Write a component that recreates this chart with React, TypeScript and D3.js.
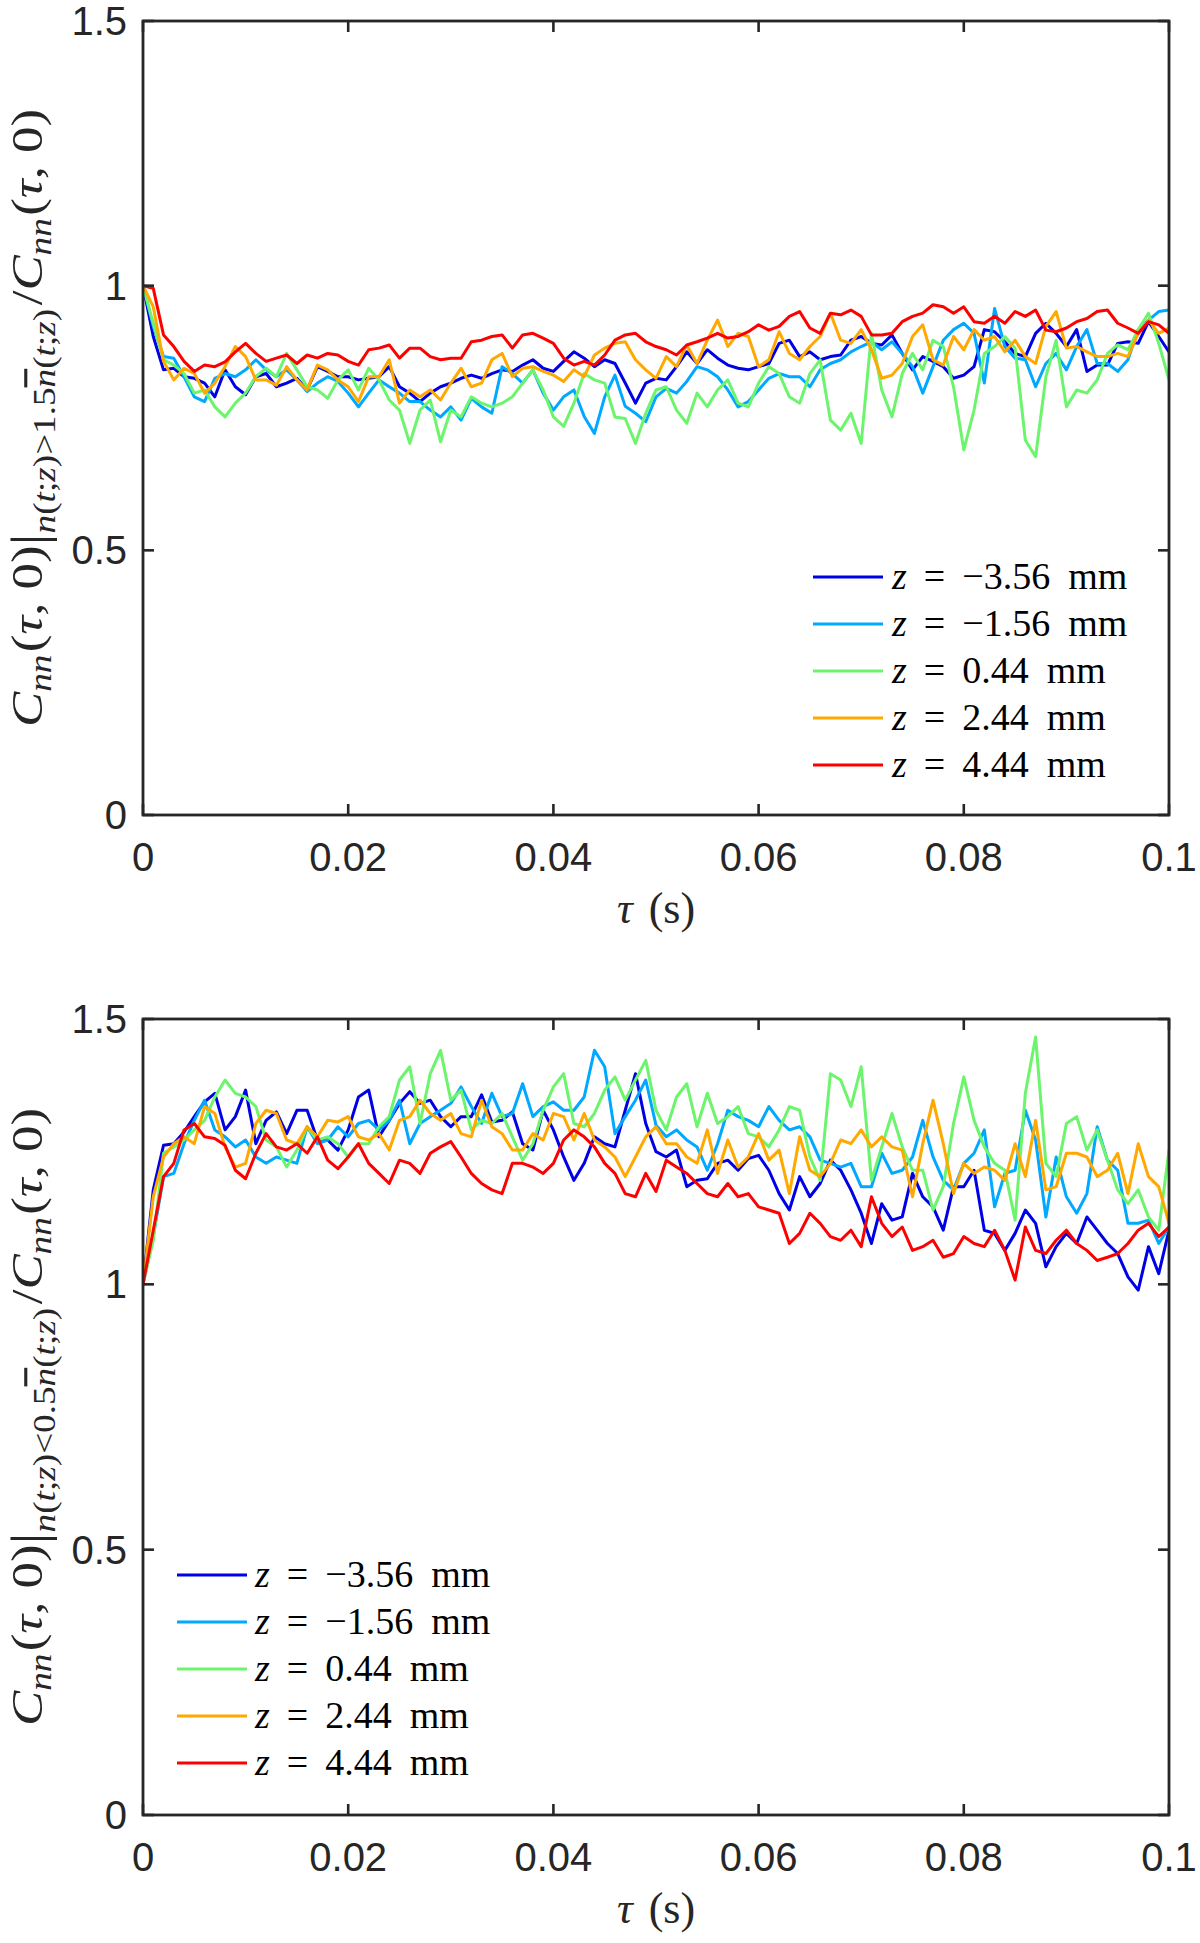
import React from "react";
import * as d3 from "d3";

// ---------- data ----------
const TAU_STEP_S = 0.001; // sampling step of the stored series (s)

const xTicks = [0, 0.02, 0.04, 0.06, 0.08, 0.1];
const xTickLabels = ["0", "0.02", "0.04", "0.06", "0.08", "0.1"];
const yTicks = [0, 0.5, 1, 1.5];
const yTickLabels = ["0", "0.5", "1", "1.5"];

const zValues = ["\u22123.56", "\u22121.56", "0.44", "2.44", "4.44"];
const seriesColors = ["#0000e6", "#00a8ff", "#6cf56c", "#ffa800", "#ff0000"];

// Panel (a): n(t;z) > 1.5 nbar
const topBlue = [1.000,0.904,0.841,0.844,0.828,0.825,0.816,0.790,0.841,0.809,0.794,0.828,0.834,0.809,0.816,0.825,0.803,0.847,0.838,0.828,0.828,0.822,0.825,0.828,0.847,0.809,0.797,0.781,0.797,0.809,0.816,0.825,0.831,0.825,0.834,0.841,0.838,0.850,0.860,0.844,0.838,0.857,0.875,0.863,0.847,0.860,0.853,0.816,0.778,0.816,0.825,
  0.822,0.847,0.875,0.853,0.879,0.863,0.850,0.844,0.841,0.847,0.853,0.891,0.897,0.866,0.875,0.860,0.866,0.869,0.897,0.904,0.891,0.888,0.907,0.872,0.841,0.866,0.857,0.847,0.825,0.831,0.847,0.917,0.913,0.894,0.872,0.866,0.910,0.929,0.910,0.885,0.917,0.838,0.850,0.850,0.891,0.894,0.891,0.932,0.904,0.875];
const topCyan = [1.000,0.923,0.866,0.863,0.828,0.790,0.781,0.825,0.834,0.828,0.841,0.860,0.841,0.828,0.841,0.822,0.800,0.816,0.828,0.819,0.797,0.771,0.797,0.822,0.809,0.797,0.781,0.781,0.765,0.752,0.771,0.746,0.787,0.771,0.759,0.847,0.834,0.816,0.841,0.797,0.765,0.790,0.803,0.753,0.721,0.790,0.831,0.772,0.759,0.743,0.790,
  0.806,0.797,0.819,0.847,0.841,0.828,0.803,0.771,0.781,0.803,0.825,0.834,0.828,0.828,0.809,0.841,0.853,0.860,0.875,0.885,0.894,0.879,0.894,0.872,0.847,0.797,0.847,0.897,0.917,0.929,0.910,0.816,0.957,0.885,0.863,0.860,0.809,0.853,0.872,0.841,0.885,0.917,0.853,0.853,0.838,0.860,0.917,0.935,0.951,0.954];
const topGreen = [1.000,0.929,0.860,0.850,0.834,0.797,0.803,0.771,0.752,0.778,0.797,0.828,0.844,0.828,0.872,0.841,0.809,0.803,0.787,0.822,0.841,0.803,0.844,0.822,0.784,0.765,0.702,0.765,0.784,0.705,0.765,0.752,0.790,0.778,0.771,0.778,0.790,0.816,0.841,0.803,0.752,0.734,0.778,0.834,0.822,0.816,0.752,0.749,0.702,0.759,0.803,
  0.809,0.765,0.740,0.797,0.771,0.803,0.822,0.778,0.771,0.816,0.847,0.834,0.790,0.778,0.834,0.860,0.746,0.727,0.759,0.702,0.910,0.803,0.752,0.834,0.872,0.841,0.897,0.885,0.809,0.690,0.765,0.872,0.885,0.904,0.882,0.708,0.677,0.828,0.897,0.771,0.803,0.797,0.822,0.872,0.888,0.879,0.917,0.948,0.891,0.822];
const topOrange = [1.000,0.960,0.857,0.822,0.844,0.834,0.797,0.816,0.847,0.885,0.866,0.822,0.822,0.812,0.847,0.822,0.803,0.850,0.841,0.822,0.809,0.781,0.828,0.828,0.860,0.778,0.803,0.790,0.803,0.784,0.816,0.844,0.809,0.816,0.860,0.872,0.828,0.844,0.847,0.838,0.831,0.819,0.841,0.828,0.869,0.882,0.891,0.894,0.860,0.841,0.825,
  0.866,0.847,0.888,0.853,0.897,0.935,0.885,0.910,0.904,0.847,0.860,0.913,0.872,0.860,0.885,0.904,0.948,0.897,0.891,0.917,0.879,0.825,0.831,0.853,0.904,0.926,0.860,0.850,0.904,0.879,0.917,0.897,0.904,0.875,0.897,0.866,0.853,0.923,0.951,0.882,0.885,0.875,0.866,0.866,0.872,0.866,0.910,0.935,0.910,0.920];
const topRed = [1.000,0.995,0.907,0.885,0.857,0.838,0.850,0.847,0.856,0.875,0.891,0.872,0.857,0.863,0.869,0.853,0.869,0.863,0.872,0.869,0.857,0.850,0.879,0.882,0.888,0.863,0.882,0.882,0.866,0.860,0.863,0.863,0.894,0.897,0.904,0.907,0.882,0.907,0.910,0.901,0.891,0.863,0.850,0.857,0.850,0.869,0.897,0.907,0.910,0.894,0.885,
  0.879,0.869,0.888,0.894,0.901,0.910,0.901,0.904,0.913,0.926,0.916,0.923,0.942,0.951,0.920,0.910,0.948,0.945,0.954,0.942,0.907,0.907,0.910,0.932,0.942,0.948,0.964,0.960,0.948,0.960,0.932,0.929,0.942,0.929,0.951,0.942,0.954,0.916,0.913,0.920,0.932,0.938,0.951,0.954,0.929,0.920,0.910,0.932,0.926,0.910];

// Panel (b): n(t;z) < 0.5 nbar
const botBlue = [1.000,1.178,1.262,1.265,1.287,1.316,1.344,1.360,1.291,1.316,1.366,1.265,1.309,1.325,1.284,1.328,1.328,1.272,1.272,1.253,1.291,1.353,1.366,1.278,1.309,1.341,1.363,1.341,1.347,1.316,1.297,1.316,1.316,1.357,1.306,1.309,1.325,1.265,1.253,1.328,1.291,1.240,1.196,1.228,1.278,1.265,1.259,1.328,1.397,1.303,1.250,
  1.240,1.253,1.184,1.196,1.199,1.228,1.234,1.215,1.237,1.243,1.215,1.171,1.140,1.203,1.165,1.190,1.234,1.215,1.178,1.134,1.077,1.152,1.121,1.127,1.209,1.165,1.146,1.102,1.184,1.184,1.215,1.102,1.096,1.064,1.096,1.140,1.115,1.033,1.071,1.096,1.077,1.127,1.102,1.077,1.058,1.014,0.989,1.071,1.020,1.102];
const botCyan = [1.000,1.090,1.203,1.209,1.265,1.309,1.347,1.291,1.278,1.259,1.272,1.240,1.228,1.240,1.234,1.228,1.297,1.265,1.272,1.297,1.278,1.303,1.309,1.291,1.309,1.347,1.265,1.303,1.316,1.328,1.341,1.372,1.335,1.303,1.360,1.316,1.322,1.378,1.316,1.335,1.344,1.328,1.328,1.353,1.441,1.410,1.284,1.316,1.347,1.385,1.300,
  1.278,1.291,1.272,1.259,1.215,1.265,1.328,1.316,1.309,1.297,1.335,1.309,1.291,1.297,1.278,1.234,1.228,1.221,1.228,1.184,1.184,1.247,1.209,1.215,1.240,1.309,1.240,1.196,1.178,1.228,1.247,1.291,1.146,1.209,1.215,1.328,1.272,1.127,1.240,1.165,1.134,1.171,1.297,1.234,1.215,1.115,1.115,1.121,1.077,1.108];
const botGreen = [1.000,1.083,1.247,1.259,1.272,1.291,1.309,1.353,1.385,1.360,1.353,1.335,1.272,1.259,1.221,1.253,1.297,1.272,1.278,1.265,1.240,1.265,1.265,1.297,1.316,1.385,1.410,1.303,1.397,1.441,1.347,1.366,1.291,1.309,1.303,1.322,1.278,1.234,1.265,1.328,1.372,1.397,1.303,1.297,1.322,1.366,1.391,1.347,1.385,1.422,1.328,
  1.291,1.353,1.378,1.297,1.360,1.303,1.316,1.335,1.284,1.278,1.259,1.291,1.335,1.328,1.240,1.196,1.397,1.385,1.335,1.410,1.196,1.259,1.322,1.259,1.215,1.215,1.140,1.184,1.303,1.391,1.309,1.259,1.228,1.215,1.121,1.360,1.466,1.228,1.203,1.303,1.316,1.253,1.291,1.234,1.178,1.152,1.178,1.127,1.102,1.253];
const botOrange = [1.000,1.165,1.240,1.265,1.278,1.265,1.335,1.322,1.259,1.221,1.228,1.303,1.328,1.322,1.272,1.265,1.297,1.278,1.309,1.306,1.316,1.278,1.272,1.284,1.253,1.309,1.316,1.347,1.322,1.309,1.322,1.284,1.278,1.347,1.297,1.284,1.253,1.253,1.284,1.272,1.322,1.316,1.272,1.322,1.272,1.259,1.240,1.203,1.240,1.278,1.297,
  1.265,1.265,1.240,1.228,1.291,1.209,1.272,1.221,1.240,1.284,1.234,1.253,1.171,1.278,1.215,1.203,1.228,1.272,1.265,1.291,1.259,1.278,1.259,1.253,1.165,1.265,1.347,1.265,1.171,1.228,1.209,1.221,1.215,1.196,1.265,1.203,1.309,1.178,1.184,1.247,1.247,1.240,1.203,1.215,1.247,1.171,1.265,1.203,1.184,1.115];
const botRed = [1.000,1.102,1.203,1.228,1.291,1.303,1.278,1.275,1.262,1.215,1.199,1.247,1.284,1.259,1.253,1.265,1.247,1.278,1.234,1.218,1.240,1.265,1.228,1.209,1.190,1.234,1.228,1.209,1.247,1.259,1.269,1.240,1.209,1.190,1.178,1.171,1.228,1.228,1.221,1.209,1.228,1.272,1.291,1.278,1.259,1.228,1.209,1.171,1.165,1.209,1.175,
  1.234,1.221,1.209,1.190,1.171,1.165,1.190,1.165,1.171,1.146,1.140,1.134,1.077,1.096,1.134,1.115,1.090,1.083,1.102,1.071,1.165,1.115,1.090,1.108,1.064,1.071,1.083,1.051,1.058,1.090,1.077,1.071,1.102,1.064,1.008,1.108,1.064,1.058,1.083,1.102,1.077,1.064,1.045,1.051,1.058,1.077,1.102,1.115,1.090,1.108];

const topSeries = [topBlue, topCyan, topGreen, topOrange, topRed];
const botSeries = [botBlue, botCyan, botGreen, botOrange, botRed];

// ---------- styling ----------
const AX = "#262626";
const SANS = "'Liberation Sans', Arial, Helvetica, sans-serif";
const SERIF = "'Liberation Serif', 'DejaVu Serif', 'Times New Roman', serif";
const LEFT = 143;
const RIGHT = 1169;

type PanelProps = {
  id: string;
  top: number;
  bottom: number;
  series: number[][];
  legendLineX: number;
  legendTextX: number;
  legendY0: number;
  cond: "gt" | "lt";
};

function YLabel({ x, y, cond }: { x: number; y: number; cond: "gt" | "lt" }) {
  const fs = 44;
  const sub = 31;
  const d1 = 9;
  const d2 = 13;
  return (
    <text
      transform={`translate(${x},${y}) rotate(-90) scale(1.2,1)`}
      textAnchor="middle"
      fontFamily={SERIF}
      fontSize={fs}
      fill={AX}
    >
      <tspan fontStyle="italic">C</tspan>
      <tspan fontStyle="italic" fontSize={sub} dy={d1}>nn</tspan>
      <tspan dy={-d1} dx={2}>(</tspan>
      <tspan fontStyle="italic">{"\u03C4"}</tspan>
      <tspan>{", 0)"}</tspan>
      <tspan fontSize={50} dy={4}>|</tspan>
      <tspan fontStyle="italic" fontSize={sub} dy={d2 - 4}>n</tspan>
      <tspan fontSize={sub}>(</tspan>
      <tspan fontStyle="italic" fontSize={sub}>t</tspan>
      <tspan fontSize={sub}>;</tspan>
      <tspan fontStyle="italic" fontSize={sub}>z</tspan>
      <tspan fontSize={sub}>{cond === "gt" ? ")>1.5" : ")<0.5"}</tspan>
      <tspan fontStyle="italic" fontSize={sub} textDecoration="overline">n</tspan>
      <tspan fontSize={sub}>(</tspan>
      <tspan fontStyle="italic" fontSize={sub}>t</tspan>
      <tspan fontSize={sub}>;</tspan>
      <tspan fontStyle="italic" fontSize={sub}>z</tspan>
      <tspan fontSize={sub}>)</tspan>
      <tspan dy={-d2} dx={3}>/</tspan>
      <tspan fontStyle="italic">C</tspan>
      <tspan fontStyle="italic" fontSize={sub} dy={d1}>nn</tspan>
      <tspan dy={-d1} dx={2}>(</tspan>
      <tspan fontStyle="italic">{"\u03C4"}</tspan>
      <tspan>{", 0)"}</tspan>
    </text>
  );
}

function Panel({ id, top, bottom, series, legendLineX, legendTextX, legendY0, cond }: PanelProps) {
  const x = d3.scaleLinear().domain([0, 0.1]).range([LEFT, RIGHT]);
  const y = d3.scaleLinear().domain([0, 1.5]).range([bottom, top]);
  const line = d3
    .line<number>()
    .x((_, i) => x(i * TAU_STEP_S))
    .y((d) => y(d));
  const tl = 11;
  const rowStep = 47;
  return (
    <g>
      <defs>
        <clipPath id={`clip-${id}`}>
          <rect x={LEFT} y={top} width={RIGHT - LEFT} height={bottom - top} />
        </clipPath>
      </defs>
      <g clipPath={`url(#clip-${id})`}>
        {series.map((s, k) => (
          <path
            key={k}
            d={line(s) || ""}
            fill="none"
            stroke={seriesColors[k]}
            strokeWidth={3}
            strokeLinejoin="round"
            strokeLinecap="round"
          />
        ))}
      </g>
      {/* box */}
      <rect x={LEFT} y={top} width={RIGHT - LEFT} height={bottom - top} fill="none" stroke={AX} strokeWidth={2.8} />
      {/* ticks */}
      {xTicks.map((t, i) => (
        <g key={`xt${i}`}>
          <line x1={x(t)} x2={x(t)} y1={bottom} y2={bottom - tl} stroke={AX} strokeWidth={2.6} />
          <line x1={x(t)} x2={x(t)} y1={top} y2={top + tl} stroke={AX} strokeWidth={2.6} />
          <text x={x(t)} y={bottom + 56} textAnchor="middle" fontFamily={SANS} fontSize={40} fill={AX}>
            {xTickLabels[i]}
          </text>
        </g>
      ))}
      {yTicks.map((t, i) => (
        <g key={`yt${i}`}>
          <line x1={LEFT} x2={LEFT + tl} y1={y(t)} y2={y(t)} stroke={AX} strokeWidth={2.6} />
          <line x1={RIGHT} x2={RIGHT - tl} y1={y(t)} y2={y(t)} stroke={AX} strokeWidth={2.6} />
          <text x={LEFT - 16} y={y(t) + 14} textAnchor="end" fontFamily={SANS} fontSize={40} fill={AX}>
            {yTickLabels[i]}
          </text>
        </g>
      ))}
      {/* x label */}
      <text x={(LEFT + RIGHT) / 2} y={bottom + 108} textAnchor="middle" fontFamily={SERIF} fontSize={44} fill={AX}>
        <tspan fontStyle="italic">{"\u03C4"}</tspan>
        <tspan dx={16}>(s)</tspan>
      </text>
      {/* y label */}
      <YLabel x={42} y={(top + bottom) / 2} cond={cond} />
      {/* legend */}
      {zValues.map((z, k) => {
        const ry = legendY0 + k * rowStep;
        return (
          <g key={`lg${k}`}>
            <line x1={legendLineX} x2={legendLineX + 70} y1={ry} y2={ry} stroke={seriesColors[k]} strokeWidth={3} />
            <text x={legendTextX} y={ry + 12} fontFamily={SERIF} fontSize={38} fill="#000">
              <tspan fontStyle="italic">z</tspan>
              <tspan dx={17}>=</tspan>
              <tspan dx={17}>{z}</tspan>
              <tspan dx={18}>mm</tspan>
            </text>
          </g>
        );
      })}
    </g>
  );
}

export default function App() {
  return (
    <svg
      width={1200}
      height={1943}
      viewBox="0 0 1200 1943"
      style={{ position: "absolute", left: 0, top: 0, display: "block", background: "#fff" }}
    >
      <rect x={0} y={0} width={1200} height={1943} fill="#fff" />
      <Panel
        id="a"
        top={21}
        bottom={815}
        series={topSeries}
        legendLineX={813}
        legendTextX={892}
        legendY0={577}
        cond="gt"
      />
      <Panel
        id="b"
        top={1019}
        bottom={1815}
        series={botSeries}
        legendLineX={177}
        legendTextX={255}
        legendY0={1575}
        cond="lt"
      />
    </svg>
  );
}
